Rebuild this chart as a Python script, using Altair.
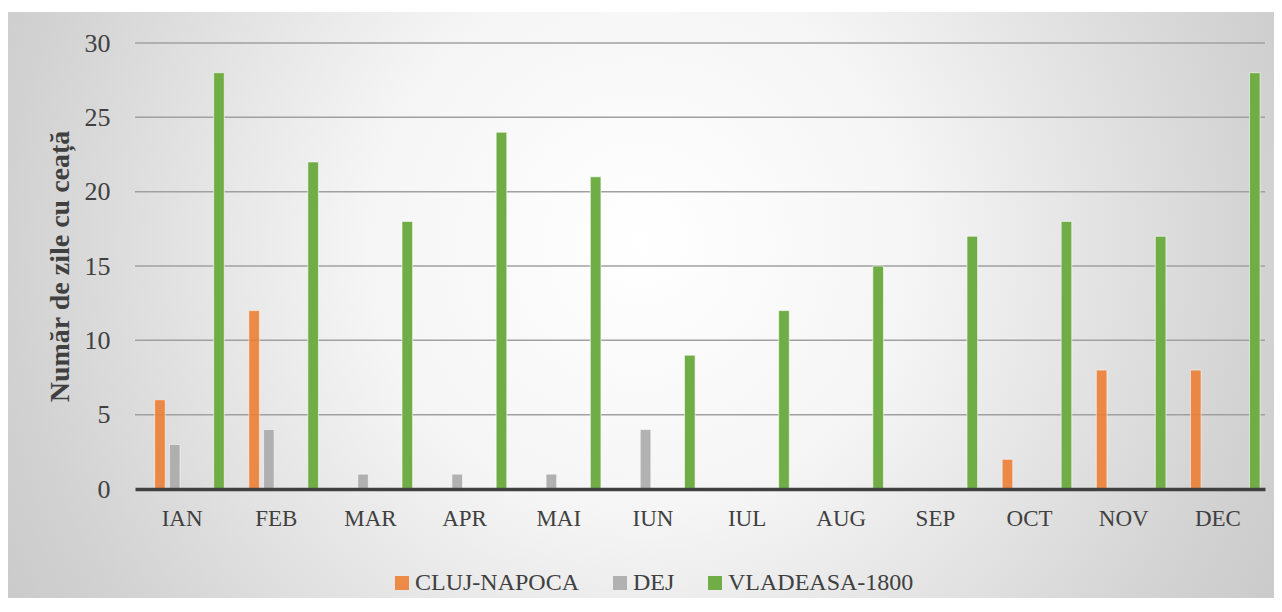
import altair as alt
import pandas as pd

months = ["IAN", "FEB", "MAR", "APR", "MAI", "IUN", "IUL", "AUG", "SEP", "OCT", "NOV", "DEC"]
series = ["CLUJ-NAPOCA", "DEJ", "VLADEASA-1800"]
cluj = [6, 12, 0, 0, 0, 0, 0, 0, 0, 2, 8, 8]
dej = [3, 4, 1, 1, 1, 4, 0, 0, 0, 0, 0, 0]
vladeasa = [28, 22, 18, 24, 21, 9, 12, 15, 17, 18, 17, 28]
colors = ["#ED7D31", "#ADADAD", "#70AD47"]
slots = ["_s0", "CLUJ-NAPOCA", "DEJ", "_s3", "_s4", "VLADEASA-1800"]
grid_values = [5, 10, 15, 20, 25, 30]
tick_values = [0, 5, 10, 15, 20, 25, 30]

rows = []
for name, vals in zip(series, [cluj, dej, vladeasa]):
    for m, v in zip(months, vals):
        rows.append({"luna": m, "serie": name, "zile": v})
df = pd.DataFrame(rows)
grid_df = pd.DataFrame({"zile": grid_values})

FONT = "Liberation Serif"
TXT = "#404040"
W, H = 1130, 446
PL, PT, PR, PB = 127, 35, 9, 109

yenc = alt.Y(
    "zile:Q",
    scale=alt.Scale(domain=[0, 30], nice=False),
    axis=alt.Axis(
        values=tick_values, domain=False, ticks=False, grid=False,
        labelFont=FONT, labelFontSize=26, labelColor=TXT, labelPadding=25,
        title="Număr de zile cu ceață", titleFont=FONT, titleFontSize=28,
        titleFontWeight="bold", titleColor=TXT, titlePadding=10, zindex=1,
    ),
)

bg = alt.Chart(alt.Data(values=[{"a": 1}])).mark_rect(
    color=alt.RadialGradient(
        gradient="radial", x1=0.5, y1=0.45, r1=0, x2=0.5, y2=0.45, r2=0.62,
        stops=[
            alt.GradientStop(offset=0, color="#ffffff"),
            alt.GradientStop(offset=0.35, color="#f5f5f5"),
            alt.GradientStop(offset=0.8, color="#d2d2d2"),
            alt.GradientStop(offset=1, color="#c6c6c6"),
        ],
    )
).encode(
    x=alt.value(-PL), x2=alt.value(W + PR),
    y=alt.value(-PT + 4), y2=alt.value(H + PB),
)

grid = alt.Chart(grid_df).mark_rule(color="#a0a0a0", strokeWidth=1.5).encode(y=yenc)

bars = alt.Chart(df).transform_filter("datum.zile > 0").mark_bar(
    stroke="#ffffff", strokeOpacity=0.6, strokeWidth=1
).encode(
    x=alt.X(
        "luna:N", sort=months,
        scale=alt.Scale(domain=months, paddingInner=0.06, paddingOuter=0.03),
        axis=alt.Axis(
            title=None, labelAngle=0, ticks=False, grid=False,
            domainColor=TXT, domainWidth=3.5,
            labelFont=FONT, labelFontSize=23, labelColor=TXT, labelPadding=18, zindex=1,
        ),
    ),
    xOffset=alt.XOffset("serie:N", scale=alt.Scale(domain=slots, paddingInner=0.28, paddingOuter=0.14)),
    y=yenc,
    color=alt.Color(
        "serie:N",
        scale=alt.Scale(domain=series, range=colors),
        legend=alt.Legend(
            title=None, orient="none", legendX=255, legendY=528, direction="horizontal",
            symbolType="square", symbolSize=196, symbolStrokeWidth=0, symbolOpacity=1,
            labelFont=FONT, labelFontSize=24, labelColor=TXT, labelOffset=1,
            labelLimit=400, columnPadding=28, padding=0,
        ),
    ),
    opacity=alt.Opacity("serie:N", scale=alt.Scale(domain=series, range=[0.88, 1, 1]), legend=None),
)

chart = alt.layer(bg, grid, bars).properties(
    width=W, height=H,
    padding={"left": PL, "top": PT, "right": PR, "bottom": PB},
    autosize=alt.AutoSizeParams(type="none"),
    background="white",
).configure(font=FONT).configure_view(stroke=None).configure_legend(
    labelFont=FONT, labelLimit=400
).configure_axis(labelFont=FONT, titleFont=FONT)

chart.save("out.html", embed_options={"renderer": "svg", "actions": False})
